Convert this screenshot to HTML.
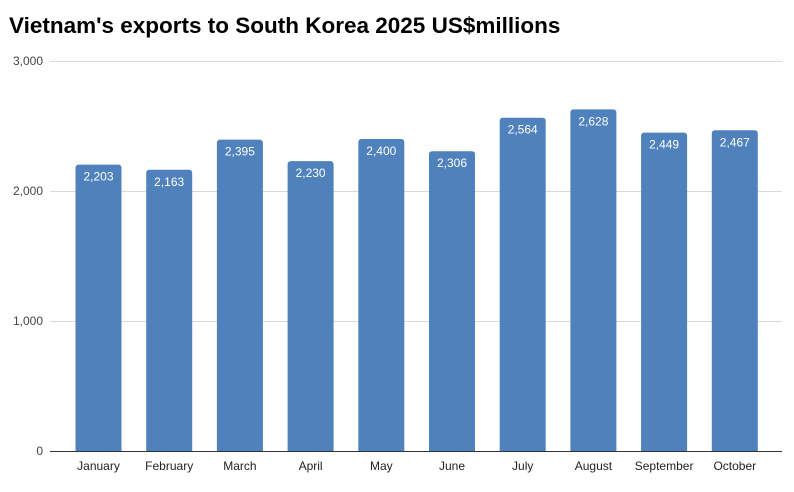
<!DOCTYPE html>
<html><head><meta charset="utf-8"><style>body{margin:0;background:#fff}</style></head><body>
<svg width="794" height="487" xmlns="http://www.w3.org/2000/svg" font-family="Liberation Sans, sans-serif">
<rect width="794" height="487" fill="#fff"/>
<text x="9" y="33" font-size="22.5" font-weight="bold" fill="#000">Vietnam's exports to South Korea 2025 US$millions</text>
<g stroke="#d9d9d9" stroke-width="1">
<line x1="50" x2="782" y1="61.5" y2="61.5"/>
<line x1="50" x2="782" y1="191.5" y2="191.5"/>
<line x1="50" x2="782" y1="321.5" y2="321.5"/>
</g>
<g font-size="12" fill="#444" text-anchor="end">
<text x="43" y="65">3,000</text>
<text x="43" y="195">2,000</text>
<text x="43" y="325">1,000</text>
<text x="43" y="455">0</text>
</g>
<g fill="#4f81bd">
<rect x="75.5" y="164.6" width="46" height="290" rx="3"/>
<rect x="146.2" y="169.8" width="46" height="285" rx="3"/>
<rect x="216.9" y="139.6" width="46" height="315" rx="3"/>
<rect x="287.6" y="161.1" width="46" height="294" rx="3"/>
<rect x="358.3" y="139" width="46" height="316" rx="3"/>
<rect x="429" y="151.2" width="46" height="304" rx="3"/>
<rect x="499.7" y="117.7" width="46" height="337" rx="3"/>
<rect x="570.4" y="109.4" width="46" height="346" rx="3"/>
<rect x="641.1" y="132.6" width="46" height="322" rx="3"/>
<rect x="711.8" y="130.3" width="46" height="325" rx="3"/>
</g>
<rect x="50" y="452" width="740" height="10" fill="#fff"/>
<line x1="50" x2="782" y1="451.5" y2="451.5" stroke="#333" stroke-width="1"/>
<g font-size="12" fill="#fff" text-anchor="middle">
<text x="98.5" y="180.6">2,203</text>
<text x="169.2" y="185.8">2,163</text>
<text x="239.9" y="155.6">2,395</text>
<text x="310.6" y="177.1">2,230</text>
<text x="381.3" y="155">2,400</text>
<text x="452" y="167.2">2,306</text>
<text x="522.7" y="133.7">2,564</text>
<text x="593.4" y="125.4">2,628</text>
<text x="664.1" y="148.6">2,449</text>
<text x="734.8" y="146.3">2,467</text>
</g>
<g font-size="12" fill="#222" text-anchor="middle">
<text x="98.5" y="470">January</text>
<text x="169.2" y="470">February</text>
<text x="239.9" y="470">March</text>
<text x="310.6" y="470">April</text>
<text x="381.3" y="470">May</text>
<text x="452" y="470">June</text>
<text x="522.7" y="470">July</text>
<text x="593.4" y="470">August</text>
<text x="664.1" y="470">September</text>
<text x="734.8" y="470">October</text>
</g>
</svg>
</body></html>
